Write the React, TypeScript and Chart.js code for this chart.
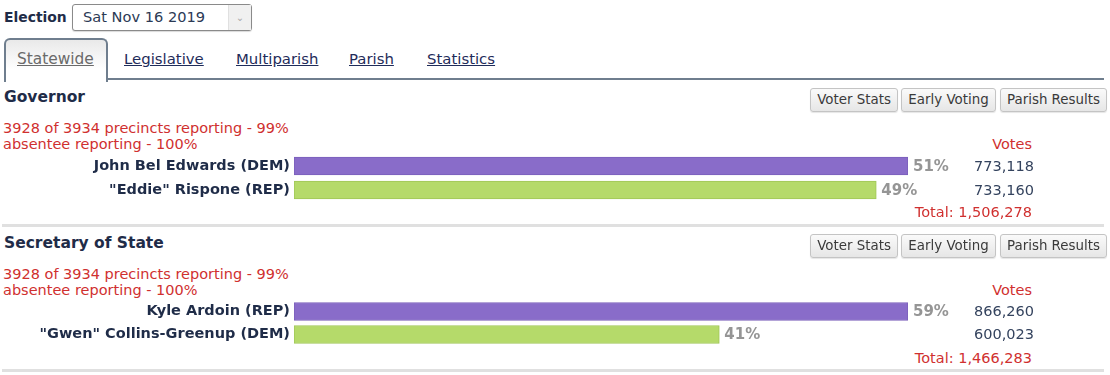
import React, { useEffect, useRef } from "react";
import { Chart, registerables } from "chart.js";

Chart.register(...registerables);

const FONT = '"DejaVu Sans", Verdana, sans-serif';
const NAVY = "#1f2c48";
const RED = "#d0302f";

const tabs = ["Statewide", "Legislative", "Multiparish", "Parish", "Statistics"];
const tabLeft = [17, 124, 236, 349, 427];
const buttons = ["Voter Stats", "Early Voting", "Parish Results"];
const buttonLeft = [810, 901, 1000];
const buttonWidth = [88, 95, 107];

const govCandidates = ['John Bel Edwards (DEM)', '"Eddie" Rispone (REP)'];
const govVotes = [773118, 733160];
const govPct = [51, 49];
const govTotal = "1,506,278";

const sosCandidates = ["Kyle Ardoin (REP)", '"Gwen" Collins-Greenup (DEM)'];
const sosVotes = [866260, 600023];
const sosPct = [59, 41];
const sosTotal = "1,466,283";

const precinctsText = "3928 of 3934 precincts reporting - 99%";
const absenteeText = "absentee reporting - 100%";

const barColors = ["#896cc9", "#b5da6a"];
const barBorders = ["#7a5fba", "#a0c657"];

function RaceChart(props: { labels: string[]; votes: number[]; pct: number[]; top: number; height: number }) {
  const ref = useRef<HTMLCanvasElement | null>(null);
  useEffect(() => {
    const canvas = ref.current!;
    const labelsPlugin = {
      id: "valueLabels",
      afterDatasetsDraw(chart: any) {
        const ctx = chart.ctx;
        const meta = chart.getDatasetMeta(0);
        ctx.save();
        ctx.textBaseline = "middle";
        meta.data.forEach((bar: any, i: number) => {
          ctx.font = `bold 15px ${FONT}`;
          ctx.fillStyle = "#959595";
          ctx.textAlign = "left";
          ctx.fillText(props.pct[i] + "%", bar.x + 5, bar.y + 1);
          ctx.font = `14.5px ${FONT}`;
          ctx.fillStyle = "#34435e";
          ctx.textAlign = "right";
          ctx.fillText(props.votes[i].toLocaleString("en-US"), 1034, bar.y + 1);
        });
        ctx.restore();
      },
    };
    const chart = new Chart(canvas, {
      type: "bar",
      data: {
        labels: props.labels,
        datasets: [
          {
            data: props.votes,
            backgroundColor: barColors,
            borderColor: barBorders,
            borderWidth: 1,
            borderSkipped: false,
            barThickness: 18,
          },
        ],
      },
      options: {
        indexAxis: "y",
        responsive: false,
        maintainAspectRatio: false,
        animation: false,
        layout: { padding: { top: 3, bottom: 3, right: 1060 - 908, left: 0 } },
        plugins: { legend: { display: false }, tooltip: { enabled: false } },
        scales: {
          x: { display: false, min: 0, max: Math.max(...props.votes) },
          y: {
            grid: { display: false, drawTicks: false },
            border: { display: false },
            ticks: { color: NAVY, font: { family: FONT, size: 14.5, weight: "bold" }, padding: 4 },
            afterFit(scale: any) {
              scale.width = 294;
              scale.paddingTop = 0;
              scale.paddingBottom = 0;
            },
          },
        },
      },
      plugins: [labelsPlugin],
    } as any);
    return () => chart.destroy();
  }, []);
  return (
    <canvas
      ref={ref}
      width={1060}
      height={props.height}
      style={{ position: "absolute", left: 0, top: props.top, width: 1060, height: props.height }}
    />
  );
}

function Txt(props: { x: number; y: number; children: any; style?: any; right?: boolean }) {
  const base: any = {
    position: "absolute",
    top: props.y - 9,
    lineHeight: "18px",
    whiteSpace: "nowrap",
    fontFamily: FONT,
    fontSize: 14.5,
  };
  if (props.right) base.right = 1110 - props.x;
  else base.left = props.x;
  return <div style={{ ...base, ...(props.style || {}) }}>{props.children}</div>;
}

function Race(props: {
  title: string;
  y0: number;
  labels: string[];
  votes: number[];
  pct: number[];
  total: string;
  chartTop: number;
  chartHeight: number;
  sepY: number;
}) {
  const y0 = props.y0;
  return (
    <>
      <Txt x={4} y={y0} style={{ fontWeight: "bold", fontSize: 15.5, color: NAVY }}>
        {props.title}
      </Txt>
      {buttons.map((b, i) => (
        <div
          key={b}
          style={{
            position: "absolute",
            left: buttonLeft[i],
            top: y0 - 9,
            width: buttonWidth[i] - 2,
            height: 22,
            border: "1px solid #c4c4c4",
            borderRadius: 3,
            background: "linear-gradient(#fafafa, #e6e6e6)",
            fontFamily: FONT,
            fontSize: 13.4,
            color: "#3a3a3a",
            lineHeight: "22px",
            textAlign: "center",
            whiteSpace: "nowrap",
            boxShadow: "0 1px 1px rgba(0,0,0,0.1)",
          }}
        >
          {b}
        </div>
      ))}
      <Txt x={3} y={y0 + 31} style={{ color: RED }}>
        {precinctsText}
      </Txt>
      <Txt x={3} y={y0 + 47} style={{ color: RED }}>
        {absenteeText}
      </Txt>
      <Txt x={1032} y={y0 + 47} right style={{ color: RED }}>
        Votes
      </Txt>
      <RaceChart labels={props.labels} votes={props.votes} pct={props.pct} top={props.chartTop} height={props.chartHeight} />
      <Txt x={1032} y={y0 + 115} right style={{ color: RED }}>
        {"Total: " + props.total}
      </Txt>
      <div
        style={{
          position: "absolute",
          left: 2,
          width: 1102,
          top: props.sepY - 1,
          height: 3,
          background: "#e0e0e0",
        }}
      />
    </>
  );
}

export default function App() {
  return (
    <div
      style={{
        position: "absolute",
        left: 0,
        top: 0,
        width: 1110,
        height: 375,
        overflow: "hidden",
        background: "#fff",
        fontFamily: FONT,
      }}
    >
      <Txt x={4} y={17} style={{ fontWeight: "bold", fontSize: 13.9, color: NAVY }}>
        Election
      </Txt>
      <div
        style={{
          position: "absolute",
          left: 72,
          top: 4,
          width: 178,
          height: 25,
          border: "1px solid #8a8a8a",
          borderRadius: 3,
          background: "#fff",
          boxShadow: "0 1px 1px rgba(0,0,0,0.15)",
        }}
      >
        <div
          style={{
            position: "absolute",
            left: 10,
            top: 3,
            fontFamily: FONT,
            fontSize: 14.6,
            lineHeight: "18px",
            color: "#2c3a55",
          }}
        >
          Sat Nov 16 2019
        </div>
        <div
          style={{
            position: "absolute",
            right: 0,
            top: 0,
            width: 22,
            height: 25,
            background: "#f0f0f0",
            borderLeft: "1px solid #e0e0e0",
            color: "#aaa",
            fontSize: 10,
            lineHeight: "25px",
            textAlign: "center",
          }}
        >
          ⌄
        </div>
      </div>
      {/* tab strip */}
      <div
        style={{
          position: "absolute",
          left: 105,
          top: 78,
          width: 999,
          height: 2,
          background: "#6f7e8e",
        }}
      />
      <div
        style={{
          position: "absolute",
          left: 4,
          top: 38,
          width: 100,
          height: 42,
          border: "2px solid #6f7e8e",
          borderBottom: "none",
          borderRadius: "6px 6px 0 0",
          background: "linear-gradient(#e9e9e9, #ffffff 70%)",
        }}
      />
      {tabs.map((t, i) => (
        <Txt
          key={t}
          x={tabLeft[i]}
          y={59}
          style={{
            fontSize: i === 0 ? 15.4 : 14.9,
            color: i === 0 ? "#6a6a6a" : "#1f2c5a",
            textDecoration: "underline",
          }}
        >
          {t}
        </Txt>
      ))}
      <Race
        title="Governor"
        y0={97}
        labels={govCandidates}
        votes={govVotes}
        pct={govPct}
        total={govTotal}
        chartTop={151}
        chartHeight={54}
        sepY={225}
      />
      <Race
        title="Secretary of State"
        y0={243}
        labels={sosCandidates}
        votes={sosVotes}
        pct={sosPct}
        total={sosTotal}
        chartTop={297}
        chartHeight={52}
        sepY={370}
      />
    </div>
  );
}
